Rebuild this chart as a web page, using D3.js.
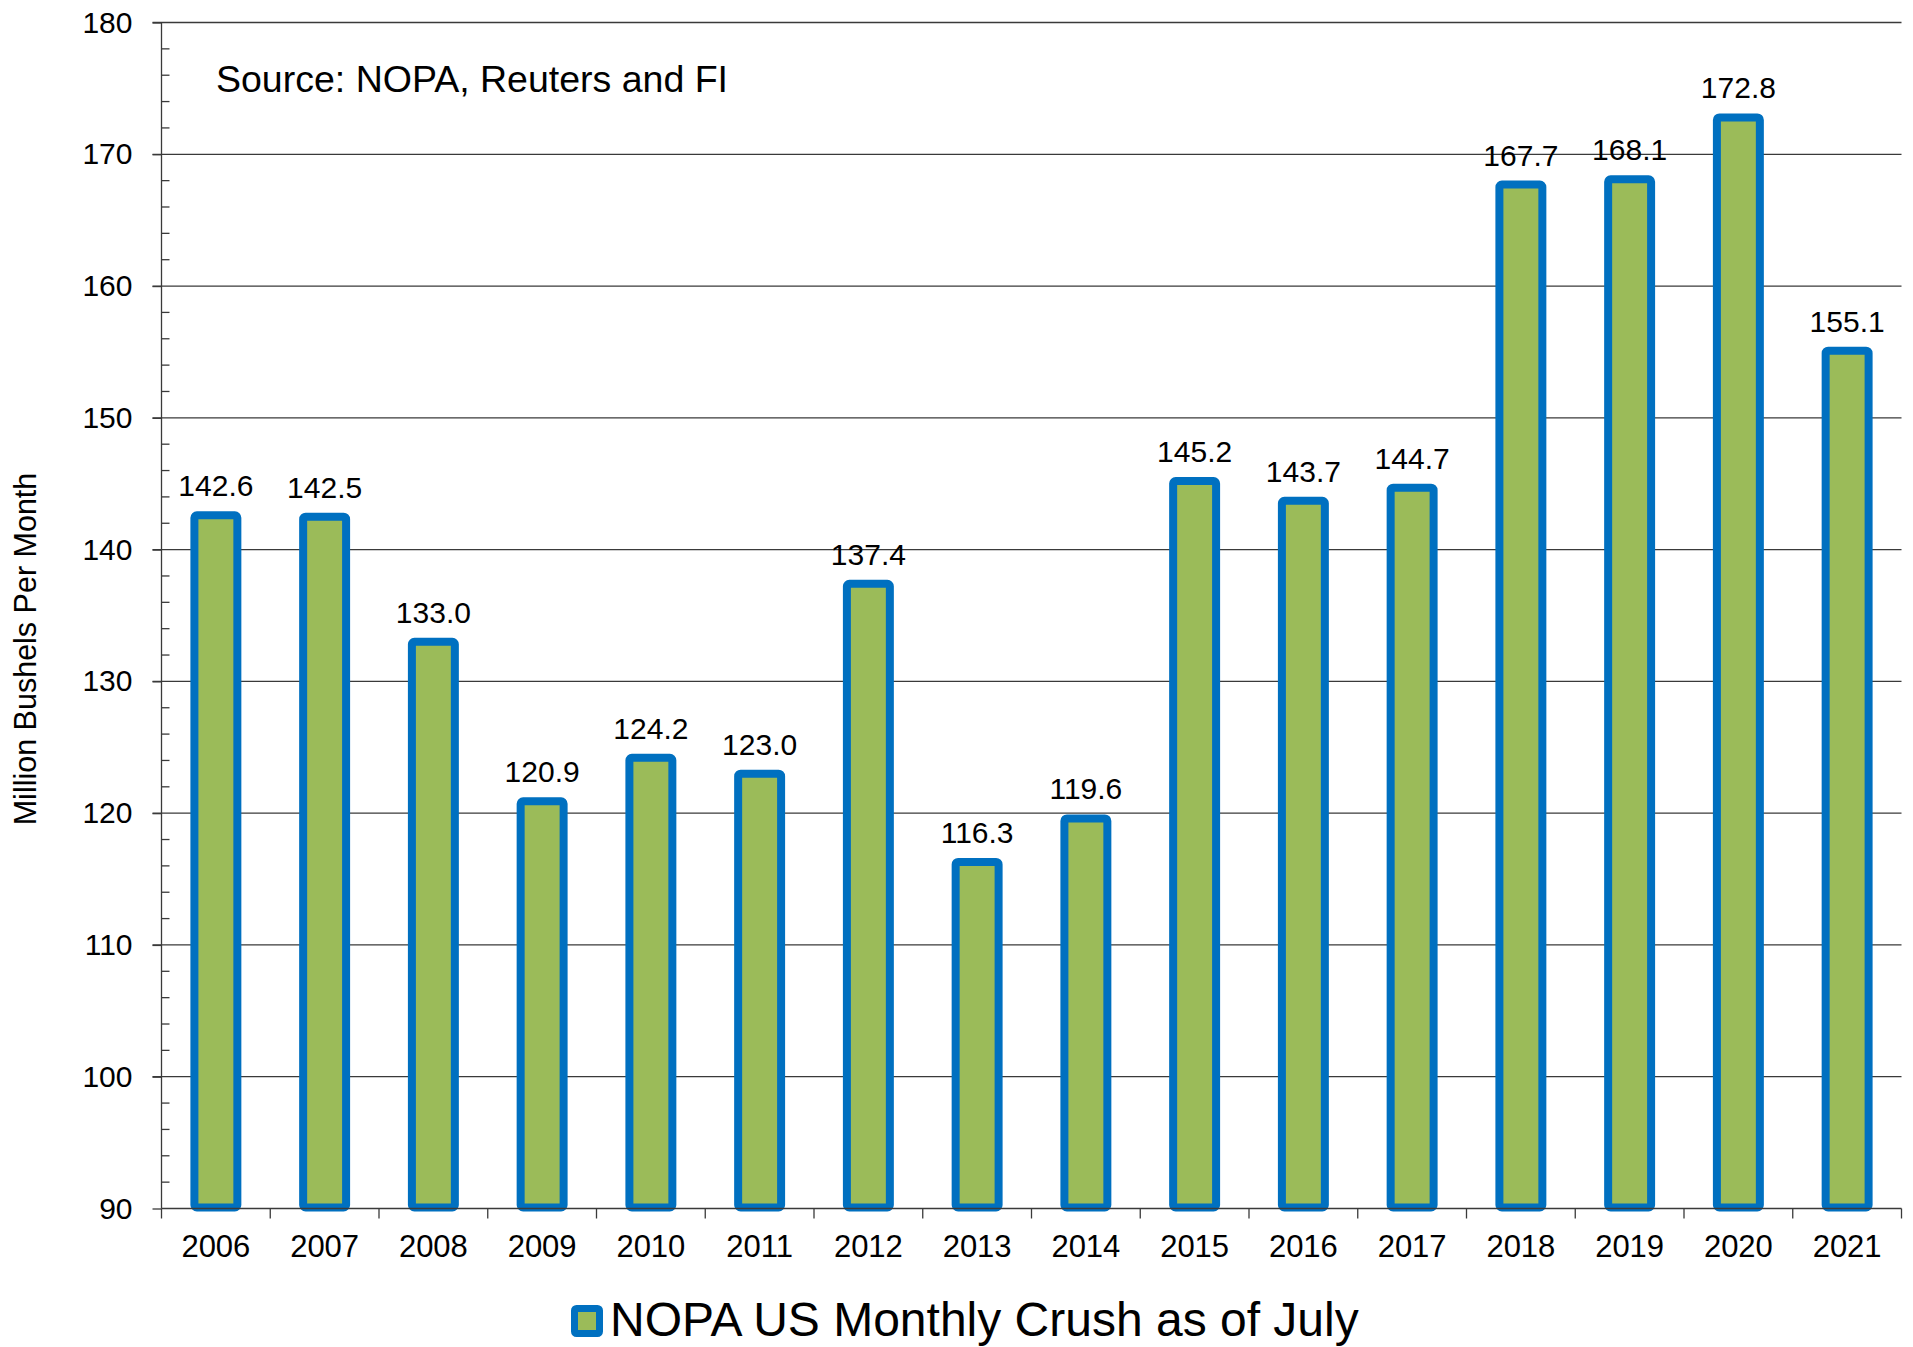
<!DOCTYPE html>
<meta charset="utf-8">
<head>
<title>NOPA US Monthly Crush</title>
<script src="https://d3js.org/d3.v7.min.js"></script>
<style>
  body { margin: 0; background: #fff; }
  text { font-family: "Liberation Sans", Arial, sans-serif; fill: #000; }
</style>
</head>
<body>
<script>

// data
var years = ["2006", "2007", "2008", "2009", "2010", "2011", "2012", "2013",
             "2014", "2015", "2016", "2017", "2018", "2019", "2020", "2021"];
var crush = [142.6, 142.5, 133.0, 120.9, 124.2, 123.0, 137.4, 116.3,
             119.6, 145.2, 143.7, 144.7, 167.7, 168.1, 172.8, 155.1];
var yTicks = [90, 100, 110, 120, 130, 140, 150, 160, 170, 180];
var seriesName = "NOPA US Monthly Crush as of July";
var sourceNote = "Source: NOPA, Reuters and FI";
var yTitle = "Million Bushels Per Month";

var W = 1913, H = 1347;
var plotL = 161.5, plotR = 1901.5, plotT = 22.5, plotB = 1208.5;
var lineCol = "#3a3a3a";

var svg = d3.select("body").append("svg")
    .attr("width", W)
    .attr("height", H);

// scales
var xCat = d3.scaleBand().domain(years).range([plotL, plotR]).padding(0);
var x = d3.scaleBand().domain(years).range([plotL, plotR])
    .paddingInner(0.605).paddingOuter(0.3025);
var y = d3.scaleLinear().domain([90, 180]).range([plotB, plotT]);

// gridlines
svg.append("g")
  .selectAll("line")
  .data(yTicks.slice(1))
  .enter().append("line")
    .attr("x1", plotL - 9)
    .attr("x2", plotR)
    .attr("y1", function(d) { return y(d); })
    .attr("y2", function(d) { return y(d); })
    .attr("stroke", lineCol)
    .attr("stroke-width", 1.3);

// minor ticks on the y axis
svg.append("g")
  .selectAll("line")
  .data(d3.range(92, 180, 2).filter(function(d) { return d % 10 !== 0; }))
  .enter().append("line")
    .attr("x1", plotL)
    .attr("x2", plotL + 8)
    .attr("y1", function(d) { return y(d); })
    .attr("y2", function(d) { return y(d); })
    .attr("stroke", lineCol)
    .attr("stroke-width", 1.3);

// y axis
var yAxis = svg.append("g")
    .attr("transform", "translate(" + plotL + ",0)")
    .call(d3.axisLeft(y).tickValues(yTicks).tickSize(9).tickPadding(20).tickFormat(d3.format("d")));
yAxis.selectAll("path, line").attr("stroke", lineCol).attr("stroke-width", 1.3);
yAxis.select(".domain").attr("d", "M0," + plotT + "V" + plotB);
yAxis.selectAll("text")
    .style("font-family", "Liberation Sans, Arial, sans-serif")
    .style("font-size", "30px")
    .attr("fill", "#000");

// bars
svg.append("g")
  .selectAll("rect")
  .data(crush)
  .enter().append("rect")
    .attr("x", function(d, i) { return x(years[i]); })
    .attr("width", x.bandwidth())
    .attr("y", function(d) { return y(d); })
    .attr("height", function(d) { return y(90) - 1 - y(d); })
    .attr("rx", 2.5)
    .attr("fill", "#9bbb59")
    .attr("stroke", "#0070c0")
    .attr("stroke-width", 8);

// x axis
var xAxis = svg.append("g")
    .attr("transform", "translate(0," + plotB + ")")
    .call(d3.axisBottom(xCat).tickSize(0).tickPadding(20));
xAxis.select(".domain").remove();
xAxis.append("line")
    .attr("x1", plotL).attr("x2", plotR)
    .attr("stroke", lineCol).attr("stroke-width", 1.3);
xAxis.selectAll(".bound")
  .data(years.concat(["end"]))
  .enter().append("line")
    .attr("class", "bound")
    .attr("x1", function(d, i) { return plotL + i * xCat.step(); })
    .attr("x2", function(d, i) { return plotL + i * xCat.step(); })
    .attr("y1", 0).attr("y2", 10)
    .attr("stroke", lineCol).attr("stroke-width", 1.3);
xAxis.selectAll(".tick text")
    .attr("y", 0)
    .attr("dy", "48.5px")
    .style("font-family", "Liberation Sans, Arial, sans-serif")
    .style("font-size", "31px")
    .attr("fill", "#000");

// value labels
svg.append("g")
  .selectAll("text")
  .data(crush)
  .enter().append("text")
    .attr("x", function(d, i) { return x(years[i]) + x.bandwidth() / 2; })
    .attr("y", function(d) { return y(d) - 19; })
    .attr("text-anchor", "middle")
    .style("font-size", "30px")
    .text(function(d) { return d.toFixed(1); });

// source note
svg.append("text")
    .attr("x", 216)
    .attr("y", 92)
    .style("font-size", "37.5px")
    .text(sourceNote);

// y axis title
svg.append("text")
    .attr("transform", "translate(36,649) rotate(-90)")
    .attr("text-anchor", "middle")
    .style("font-size", "30.5px")
    .text(yTitle);

// legend
var legend = svg.append("g");
legend.append("rect")
    .attr("x", 574.5).attr("y", 1308.5)
    .attr("width", 25).attr("height", 25)
    .attr("rx", 2)
    .attr("fill", "#9bbb59")
    .attr("stroke", "#0070c0")
    .attr("stroke-width", 7);
legend.append("text")
    .attr("x", 610)
    .attr("y", 1336)
    .style("font-size", "48px")
    .text(seriesName);

</script>
</body>
